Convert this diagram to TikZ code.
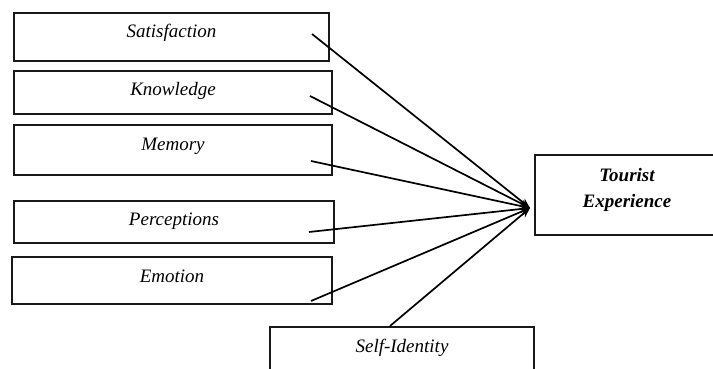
\documentclass[tikz,border=0pt]{standalone}
\usepackage{fontspec}
\setmainfont{Liberation Serif}
\usetikzlibrary{arrows.meta}
\begin{document}
\begin{tikzpicture}[x=1pt,y=-1pt,
  factor/.style 2 args={draw=black!90, line width=1.9pt, inner sep=0pt, anchor=north,
    text height=#1, text depth=#2,
    font=\fontsize{19}{23}\selectfont\itshape},
  link/.style={draw=black, line width=1.7pt, -{Stealth[length=10pt,width=8pt]}}]
\useasboundingbox (0,0) rectangle (713,369);
\clip (0,0) rectangle (713,369);

% antecedent boxes
\node[factor={25pt}{23pt}, minimum width=315pt] (sat) at (171.5,12) {Satisfaction};
\node[factor={25pt}{18pt}, minimum width=318pt] (kno) at (173,70) {Knowledge};
\node[factor={26pt}{24pt}, minimum width=318pt] (mem) at (173,124) {Memory};
\node[factor={25pt}{17pt}, minimum width=320pt] (per) at (174,200) {Perceptions};
\node[factor={26pt}{21pt}, minimum width=320pt] (emo) at (172,256) {Emotion};
\node[factor={26pt}{48pt}, minimum width=264pt] (sid) at (402,326) {Self-Identity};

% outcome box
\node[draw=black!90, line width=1.9pt, minimum width=186pt, minimum height=80pt,
  anchor=north west] (tex) at (534,154) {};
\node[font=\fontsize{19}{26}\selectfont\bfseries\itshape, align=center, inner sep=0pt,
  anchor=north] (tex-t) at (627,168) {Tourist\\Experience};

% line origins and the common tip
\coordinate (s1) at (312,34);
\coordinate (s2) at (310,96);
\coordinate (s3) at (311,161);
\coordinate (s4) at (309,232);
\coordinate (s5) at (311,301);
\coordinate (s6) at (390,326);
\coordinate (tip) at (530,208);

\foreach \p in {s1,s2,s3,s4,s5,s6}
  \draw[link] (\p) -- (tip);
\end{tikzpicture}
\end{document}
